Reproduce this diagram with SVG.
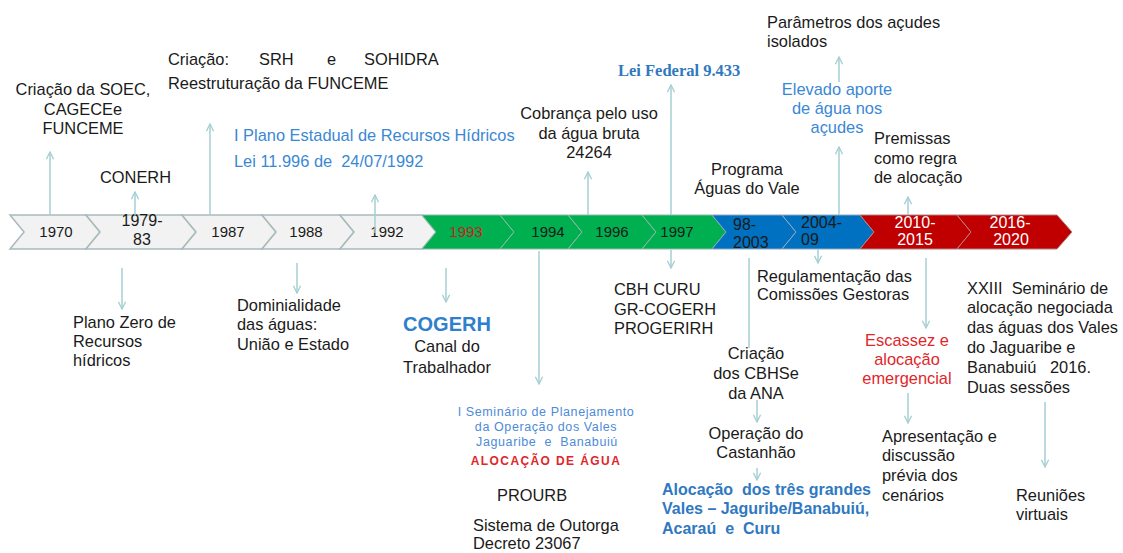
<svg xmlns="http://www.w3.org/2000/svg" width="1123" height="553" viewBox="0 0 1123 553">
<style>
text{font-family:"Liberation Sans",Arial,sans-serif;font-size:16.4px;fill:#1a1a1a}
.c{text-anchor:middle}
.blue{fill:#3a88d4}
.dblue{fill:#2f78c2;font-weight:bold}
.red{fill:#e0262b}
.yr{font-size:15px;text-anchor:middle}
.yr2{font-size:16px}
.w{fill:#ffffff}
.conn{stroke:#a6cfd3;stroke-width:1.5;fill:none}
.grey{fill:#f2f2f2;stroke:#a7babc;stroke-width:1.5}
.green{fill:#00b050;stroke:#8fb8a6;stroke-width:1}
.bl{fill:#0070c0;stroke:#8fa8c0;stroke-width:1}
.rd{fill:#c00000;stroke:#b08080;stroke-width:1}
.sm{font-size:12.5px;letter-spacing:0.6px;fill:#4d8ad8;text-anchor:middle}
</style>
<defs>
<marker id="ah" viewBox="0 0 10 10" refX="9" refY="5" markerWidth="9" markerHeight="9" markerUnits="userSpaceOnUse" orient="auto">
<path d="M1,1 L9,5 L1,9" fill="none" stroke="#a6cfd3" stroke-width="1.5"/>
</marker>
</defs>
<rect width="1123" height="553" fill="#ffffff"/>

<g id="timeline">
<polygon class="grey" points="10,215 86,215 100,232 86,249 10,249 24,232"/>
<polygon class="grey" points="86,215 182,215 196,232 182,249 86,249 100,232"/>
<polygon class="grey" points="182,215 262,215 276,232 262,249 182,249 196,232"/>
<polygon class="grey" points="262,215 340,215 354,232 340,249 262,249 276,232"/>
<polygon class="grey" points="340,215 422,215 436,232 422,249 340,249 354,232"/>
<polygon class="green" points="422,215 500,215 514,232 500,249 422,249 436,232"/>
<polygon class="green" points="500,215 568,215 582,232 568,249 500,249 514,232"/>
<polygon class="green" points="568,215 642,215 656,232 642,249 568,249 582,232"/>
<polygon class="green" points="642,215 712,215 726,232 712,249 642,249 656,232"/>
<polygon class="bl" points="712,215 782,215 796,232 782,249 712,249 726,232"/>
<polygon class="bl" points="782,215 860,215 874,232 860,249 782,249 796,232"/>
<polygon class="rd" points="860,215 957,215 971,232 957,249 860,249 874,232"/>
<polygon class="rd" points="957,215 1057,215 1072,232 1057,249 957,249 971,232"/>
<text class="yr" x="56" y="237">1970</text>
<text class="yr yr2" x="142" y="226">1979-</text>
<text class="yr yr2" x="142" y="245">83</text>
<text class="yr" x="228" y="237">1987</text>
<text class="yr" x="306" y="237">1988</text>
<text class="yr" x="387" y="237">1992</text>
<text class="yr" x="466" y="237" style="fill:#c8201e">1993</text>
<text class="yr" x="548" y="237">1994</text>
<text class="yr" x="612" y="237">1996</text>
<text class="yr" x="677" y="237">1997</text>
<text class="yr yr2" x="733" y="230" style="text-anchor:start">98-</text>
<text class="yr yr2" x="733" y="248" style="text-anchor:start">2003</text>
<text class="yr yr2" x="801" y="228" style="text-anchor:start">2004-</text>
<text class="yr yr2" x="801" y="245" style="text-anchor:start">09</text>
<text class="yr yr2 w" x="915" y="228">2010-</text>
<text class="yr yr2 w" x="915" y="245">2015</text>
<text class="yr yr2 w" x="1010" y="228">2016-</text>
<text class="yr yr2 w" x="1011" y="245">2020</text>
</g>

<g id="connectors">
<line class="conn" x1="50" y1="215" x2="50" y2="152" marker-end="url(#ah)"/>
<line class="conn" x1="135" y1="215" x2="135" y2="192" marker-end="url(#ah)"/>
<line class="conn" x1="210" y1="215" x2="210" y2="124" marker-end="url(#ah)"/>
<line class="conn" x1="375" y1="233" x2="375" y2="195" marker-end="url(#ah)"/>
<line class="conn" x1="588" y1="215" x2="588" y2="172" marker-end="url(#ah)"/>
<line class="conn" x1="671" y1="215" x2="671" y2="85" marker-end="url(#ah)"/>
<line class="conn" x1="839" y1="82" x2="839" y2="57" marker-end="url(#ah)"/>
<line class="conn" x1="839" y1="215" x2="839" y2="147" marker-end="url(#ah)"/>
<line class="conn" x1="908" y1="215" x2="908" y2="197" marker-end="url(#ah)"/>
<line class="conn" x1="122" y1="268" x2="122" y2="309" marker-end="url(#ah)"/>
<line class="conn" x1="297" y1="263" x2="297" y2="293" marker-end="url(#ah)"/>
<line class="conn" x1="446" y1="268" x2="446" y2="302" marker-end="url(#ah)"/>
<line class="conn" x1="539" y1="251" x2="539" y2="384" marker-end="url(#ah)"/>
<line class="conn" x1="671" y1="250" x2="671" y2="268" marker-end="url(#ah)"/>
<line class="conn" x1="749" y1="258" x2="749" y2="348"/>
<line class="conn" x1="818" y1="250" x2="818" y2="263" marker-end="url(#ah)"/>
<line class="conn" x1="926" y1="258" x2="926" y2="328" marker-end="url(#ah)"/>
<line class="conn" x1="757" y1="400" x2="757" y2="422" marker-end="url(#ah)"/>
<line class="conn" x1="757" y1="468" x2="757" y2="480" marker-end="url(#ah)"/>
<line class="conn" x1="908" y1="393" x2="908" y2="423" marker-end="url(#ah)"/>
<line class="conn" x1="1045" y1="402" x2="1045" y2="467" marker-end="url(#ah)"/>
</g>

<g id="n-soec">
<text class="c" x="83" y="95">Criação da SOEC,</text>
<text class="c" x="83" y="115">CAGECEe</text>
<text class="c" x="83" y="134">FUNCEME</text>
</g>
<g id="n-conerh"><text x="100" y="183">CONERH</text></g>
<g id="n-srh">
<text y="65"><tspan x="168">Criação:</tspan><tspan x="259">SRH</tspan><tspan x="327">e</tspan><tspan x="364">SOHIDRA</tspan></text>
<text x="168" y="89">Reestruturação da FUNCEME</text>
</g>
<g id="n-plano">
<text class="blue" x="234" y="141">I Plano Estadual de Recursos Hídricos</text>
<text class="blue" x="234" y="167" xml:space="preserve">Lei 11.996 de  24/07/1992</text>
</g>
<g id="n-cobranca">
<text class="c" x="589" y="119">Cobrança pelo uso</text>
<text class="c" x="589" y="139">da água bruta</text>
<text class="c" x="589" y="158">24264</text>
</g>
<g id="n-lei"><text x="618" y="76" style="font-family:'Liberation Serif','Times New Roman',serif;font-weight:bold;font-size:16.5px;fill:#2f78c2">Lei Federal 9.433</text></g>
<g id="n-parametros">
<text x="767" y="28">Parâmetros dos açudes</text>
<text x="767" y="47">isolados</text>
</g>
<g id="n-elevado">
<text class="c blue" x="837" y="95">Elevado aporte</text>
<text class="c blue" x="837" y="114">de água nos</text>
<text class="c blue" x="837" y="133">açudes</text>
</g>
<g id="n-programa">
<text class="c" x="747" y="175">Programa</text>
<text class="c" x="747" y="194">Águas do Vale</text>
</g>
<g id="n-premissas">
<text x="874" y="144">Premissas</text>
<text x="874" y="164">como regra</text>
<text x="874" y="183">de alocação</text>
</g>

<g id="n-planozero">
<text x="73" y="328">Plano Zero de</text>
<text x="73" y="347">Recursos</text>
<text x="73" y="366">hídricos</text>
</g>
<g id="n-dominialidade">
<text x="237" y="311">Dominialidade</text>
<text x="237" y="330">das águas:</text>
<text x="237" y="350">União e Estado</text>
</g>
<g id="n-cogerh">
<text class="c" x="447" y="331" style="font-size:20px;font-weight:bold;fill:#2f80cc">COGERH</text>
<text class="c" x="447" y="352">Canal do</text>
<text class="c" x="447" y="373">Trabalhador</text>
</g>
<g id="n-seminario">
<text class="sm" x="546" y="416">I Seminário de Planejamento</text>
<text class="sm" x="546" y="431">da Operação dos Vales</text>
<text class="sm" x="547" y="446" xml:space="preserve">Jaguaribe  e  Banabuiú</text>
<text class="c" x="546" y="465" style="font-size:12px;font-weight:bold;letter-spacing:1.4px;fill:#e0262b">ALOCAÇÃO DE ÁGUA</text>
</g>
<g id="n-prourb"><text x="497" y="501">PROURB</text></g>
<g id="n-outorga">
<text x="473" y="531">Sistema de Outorga</text>
<text x="473" y="549">Decreto 23067</text>
</g>
<g id="n-cbh">
<text x="614" y="295">CBH CURU</text>
<text x="614" y="315">GR-COGERH</text>
<text x="614" y="334">PROGERIRH</text>
</g>
<g id="n-regulamentacao">
<text x="757" y="282">Regulamentação das</text>
<text x="757" y="300">Comissões Gestoras</text>
</g>
<g id="n-cbhs">
<text class="c" x="756" y="359">Criação</text>
<text class="c" x="756" y="379">dos CBHSe</text>
<text class="c" x="756" y="399">da ANA</text>
</g>
<g id="n-castanhao">
<text class="c" x="756" y="439">Operação do</text>
<text class="c" x="756" y="458">Castanhão</text>
</g>
<g id="n-alocacao">
<text class="dblue" x="662" y="495" xml:space="preserve" style="font-size:16px">Alocação  dos três grandes</text>
<text class="dblue" x="662" y="514" style="font-size:16px">Vales – Jaguribe/Banabuiú,</text>
<text class="dblue" x="662" y="534" xml:space="preserve" style="font-size:16px">Acaraú  e  Curu</text>
</g>
<g id="n-escassez">
<text class="c red" x="907" y="346">Escassez e</text>
<text class="c red" x="907" y="365">alocação</text>
<text class="c red" x="907" y="384">emergencial</text>
</g>
<g id="n-apresentacao">
<text x="882" y="442">Apresentação e</text>
<text x="882" y="461">discussão</text>
<text x="882" y="481">prévia dos</text>
<text x="882" y="501">cenários</text>
</g>
<g id="n-xxiii">
<text x="967" y="294" xml:space="preserve">XXIII  Seminário de</text>
<text x="967" y="313">alocação negociada</text>
<text x="967" y="333">das águas dos Vales</text>
<text x="967" y="353">do Jaguaribe e</text>
<text x="967" y="373" xml:space="preserve">Banabuiú   2016.</text>
<text x="967" y="393">Duas sessões</text>
</g>
<g id="n-reunioes">
<text x="1016" y="501">Reuniões</text>
<text x="1016" y="520">virtuais</text>
</g>
</svg>
